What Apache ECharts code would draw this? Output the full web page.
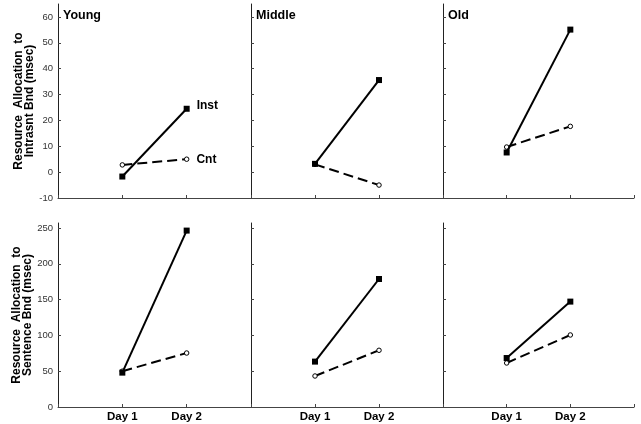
<!DOCTYPE html>
<html>
<head>
<meta charset="utf-8">
<script src="https://cdn.jsdelivr.net/npm/echarts@6/dist/echarts.min.js"></script>
<style>
html,body{margin:0;padding:0;background:#fff;}
#chart{width:641px;height:424px;}
</style>
</head>
<body>
<div id="chart"></div>
<script>
// ---- data ----
const dayLabels = ['', 'Day 1', 'Day 2', ''];
const groups = ['Young', 'Middle', 'Old'];
const seriesNames = ['Inst', 'Cnt'];

// Top row: Resource Allocation to Intrasnt Bnd (msec)
const intraInst = [[-1.7, 24.5], [3.2, 35.6], [7.6, 55.1]];
const intraCnt  = [[2.8, 5.0], [3.0, -5.0], [9.7, 17.7]];
// Bottom row: Resource Allocation to Sentence Bnd (msec)
const sentInst = [[48, 246.4], [63.4, 178.8], [68.4, 147.2]];
const sentCnt  = [[50, 75.4], [43.3, 79.2], [61.5, 100.6]];

const topTicks = [-10, 0, 10, 20, 30, 40, 50, 60];
const bottomTicks = [0, 50, 100, 150, 200, 250];
const topAxisName = 'Resource  Allocation  to\nIntrasnt Bnd (msec)';
const bottomAxisName = 'Resource  Allocation  to\nSentence Bnd (msec)';

// ---- layout ----
const FONT = "'Liberation Sans', Arial, Helvetica, sans-serif";
const colLeft = [58, 251, 443];
const colWidth = [193, 192, 191];
const rowTop = [4, 223];
const rowHeight = [194, 184];

const chart = echarts.init(document.getElementById('chart'), null, {renderer: 'canvas'});

const grids = [], xAxes = [], yAxes = [], series = [], titles = [];
let gi = 0;
for (let r = 0; r < 2; r++) {
  for (let c = 0; c < 3; c++) {
    grids.push({left: colLeft[c], top: rowTop[r], width: colWidth[c], height: rowHeight[r], containLabel: false});
    xAxes.push({
      type: 'category', gridIndex: gi, data: dayLabels, boundaryGap: false,
      axisLine: {show: true, onZero: false, lineStyle: {color: '#444', width: 1}},
      axisTick: {show: true, inside: true, length: 3, alignWithLabel: true, lineStyle: {color: '#444'}},
      axisLabel: {show: r === 1, interval: 0, color: '#000', fontFamily: FONT, fontWeight: 'bold', fontSize: 11.5, margin: 4},
      splitLine: {show: false}
    });
    const ticks = r === 0 ? topTicks : bottomTicks;
    yAxes.push({
      type: 'value', gridIndex: gi,
      min: r === 0 ? -10 : 0, max: r === 0 ? 65 : 257,
      axisLine: {show: true, lineStyle: {color: '#222', width: 1}},
      axisTick: {show: true, inside: true, length: 3, customValues: ticks, lineStyle: {color: '#444'}},
      axisLabel: {show: c === 0, customValues: ticks, color: '#333', fontFamily: FONT, fontSize: 9.5, margin: 5},
      splitLine: {show: false},
      name: c === 0 ? (r === 0 ? topAxisName : bottomAxisName) : '',
      nameLocation: 'middle', nameRotate: 90, nameGap: 13,
      nameTextStyle: {color: '#000', fontFamily: FONT, fontWeight: 'bold', fontSize: 12, lineHeight: 11, align: 'center'}
    });
    const inst = r === 0 ? intraInst[c] : sentInst[c];
    const cnt = r === 0 ? intraCnt[c] : sentCnt[c];
    const withLabels = (r === 0 && c === 0);
    const mk = (vals, name, dy) => [null, vals[0],
      withLabels ? {value: vals[1], label: {show: true, position: 'right', distance: 7, offset: [0, dy], formatter: name,
        color: '#000', fontFamily: FONT, fontWeight: 'bold', fontSize: 12}} : vals[1], null];
    series.push({
      type: 'line', name: seriesNames[1], xAxisIndex: gi, yAxisIndex: gi,
      data: mk(cnt, seriesNames[1], 0),
      symbol: 'circle', symbolSize: 4.5, showAllSymbol: true,
      itemStyle: {color: '#fff', borderColor: '#000', borderWidth: 1},
      lineStyle: {color: '#000', width: 2, type: [10, 5]},
      z: 2
    });
    series.push({
      type: 'line', name: seriesNames[0], xAxisIndex: gi, yAxisIndex: gi,
      data: mk(inst, seriesNames[0], -3),
      symbol: 'rect', symbolSize: 6, showAllSymbol: true,
      itemStyle: {color: '#000'},
      lineStyle: {color: '#000', width: 2},
      z: 3
    });
    if (r === 0) {
      titles.push({text: groups[c], left: colLeft[c] + 5, top: 9, padding: 0,
        textStyle: {color: '#000', fontFamily: FONT, fontWeight: 'bold', fontSize: 12.5}});
    }
    gi++;
  }
}

chart.setOption({
  animation: false,
  backgroundColor: '#fff',
  title: titles,
  grid: grids,
  xAxis: xAxes,
  yAxis: yAxes,
  series: series
});
</script>
</body>
</html>
